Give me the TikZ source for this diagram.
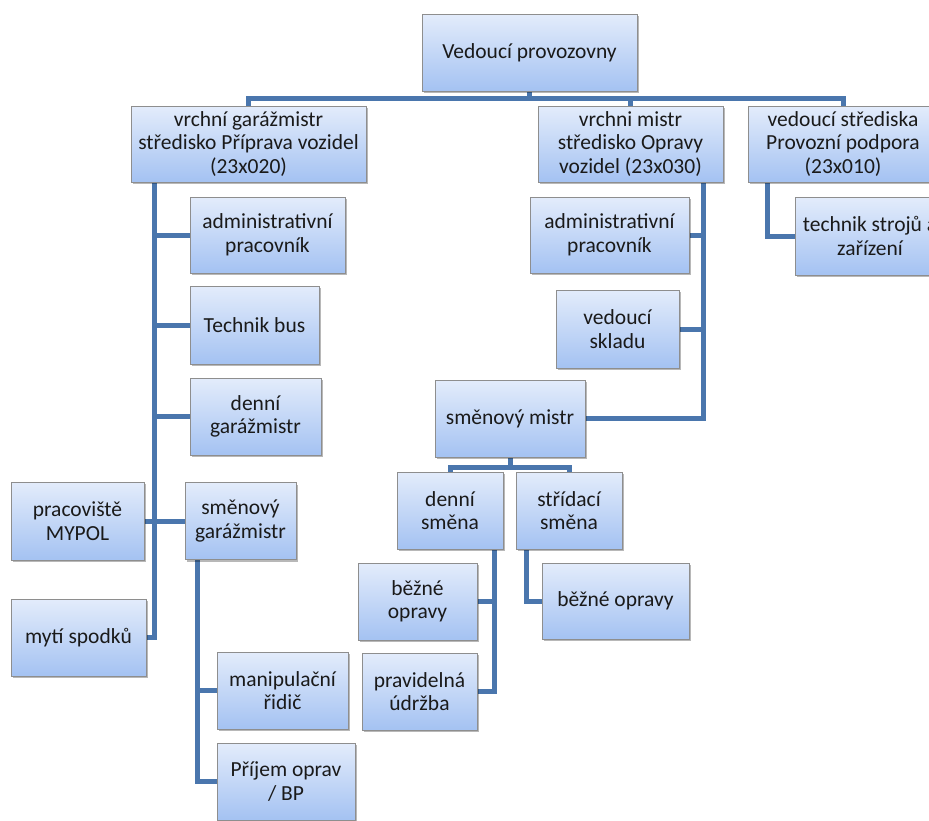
\documentclass[tikz,border=0pt]{standalone}
\usepackage{fontspec}
\setmainfont{Carlito}
\usetikzlibrary{calc,shadows,backgrounds}
\definecolor{boxtop}{HTML}{E3ECFB}
\definecolor{boxbot}{HTML}{A4C2F2}
\definecolor{boxline}{HTML}{8E8E8E}
\definecolor{linkblue}{HTML}{4A76AD}
\definecolor{txt}{HTML}{1A1A1A}
\begin{document}
\begin{tikzpicture}[x=1pt,y=-1pt,
  orgbox/.style={draw=boxline, line width=0.9pt, top color=boxtop, bottom color=boxbot,
    inner sep=0pt, align=center, text=txt,
    font=\fontsize{21.5}{23.5}\selectfont,
    drop shadow={shadow xshift=1.5pt, shadow yshift=-2pt, fill=black, opacity=0.28}},
  link/.style={draw=linkblue, line width=5pt}]
\useasboundingbox (0,0) rectangle (929,820);

% top level
\node[orgbox, minimum width=215, minimum height=77] (top) at (529.5,52.5) {Vedoucí provozovny};

% second level
\node[orgbox, minimum width=235, minimum height=76] (L1) at (248.5,144)
  {vrchní garážmistr\\středisko Příprava vozidel\\(23x020)};
\node[orgbox, minimum width=185, minimum height=76] (M1) at (630.5,144)
  {vrchni mistr\\středisko Opravy\\vozidel (23x030)};
\node[orgbox, minimum width=190, minimum height=76] (R1) at (843,144)
  {vedoucí střediska\\Provozní podpora\\(23x010)};

% Provozní podpora
\node[orgbox, minimum width=150, minimum height=78] (tech) at (870,236)
  {technik strojů a\\zařízení};

% Příprava vozidel
\node[orgbox, minimum width=155, minimum height=76] (admA) at (267.5,235)
  {administrativní\\pracovník};
\node[orgbox, minimum width=129, minimum height=78] (bus1) at (254.5,325) {Technik bus};
\node[orgbox, minimum width=131, minimum height=77] (dgar) at (255.5,416.5)
  {denní\\garážmistr};
\node[orgbox, minimum width=111, minimum height=77] (sgar) at (240.5,521)
  {směnový\\garážmistr};
\node[orgbox, minimum width=133, minimum height=78] (mypol) at (77.5,521)
  {pracoviště\\MYPOL};
\node[orgbox, minimum width=135, minimum height=77] (myti) at (78.5,637.5) {mytí spodků};
\node[orgbox, minimum width=131, minimum height=77] (manip) at (282.5,690.5)
  {manipulační\\řidič};
\node[orgbox, minimum width=138, minimum height=77] (prijem) at (286,781.5)
  {Příjem oprav\\/ BP};

% Opravy vozidel
\node[orgbox, minimum width=159, minimum height=76] (admB) at (609.5,235)
  {administrativní\\pracovník};
\node[orgbox, minimum width=123, minimum height=78] (sklad) at (617.5,329)
  {vedoucí\\skladu};
\node[orgbox, minimum width=150, minimum height=77] (smistr) at (510,418.5) {směnový mistr};
\node[orgbox, minimum width=106, minimum height=77] (denni) at (450,510.5)
  {denní\\směna};
\node[orgbox, minimum width=106, minimum height=77] (strid) at (569,510.5)
  {střídací\\směna};
\node[orgbox, minimum width=119, minimum height=77] (bezA) at (417.5,601.5)
  {běžné\\opravy};
\node[orgbox, minimum width=115, minimum height=77] (udrz) at (419.5,691.5)
  {pravidelná\\údržba};
\node[orgbox, minimum width=147, minimum height=76] (bezB) at (615.5,601) {běžné opravy};

% connectors, drawn behind the boxes on a white ground
\begin{scope}[on background layer]
  \fill[white] (0,0) rectangle (929,820);

  \coordinate (bus) at (0,98);
  \draw[link] (top.south) -- (top.south |- bus);
  \draw[link] (L1.north) -- (L1.north |- bus) -- (R1.north |- bus) -- (R1.north);
  \draw[link] (M1.north) -- (M1.north |- bus);

  \coordinate (tR) at ($(R1.south west)+(20,0)$);
  \draw[link] (tR) |- (tech.west);

  \coordinate (tL) at ($(L1.south west)+(24,0)$);
  \draw[link] (tL) |- (myti.east);
  \draw[link] (admA.west) -- (admA.west -| tL);
  \draw[link] (bus1.west) -- (bus1.west -| tL);
  \draw[link] (dgar.west) -- (dgar.west -| tL);
  \draw[link] (mypol.east) -- (sgar.west);

  \coordinate (tS) at ($(sgar.south west)+(13,0)$);
  \draw[link] (tS) |- (prijem.west);
  \draw[link] (manip.west) -- (manip.west -| tS);

  \coordinate (tM) at ($(M1.south east)+(-20,0)$);
  \draw[link] (tM) |- (smistr.east);
  \draw[link] (admB.east) -- (admB.east -| tM);
  \draw[link] (sklad.east) -- (sklad.east -| tM);

  \coordinate (sbus) at (0,467);
  \draw[link] (smistr.south) -- (smistr.south |- sbus);
  \draw[link] (denni.north) -- (denni.north |- sbus) -- (strid.north |- sbus) -- (strid.north);

  \coordinate (tD) at ($(denni.south east)+(-9,0)$);
  \draw[link] (tD) |- (udrz.east);
  \draw[link] (bezA.east) -- (bezA.east -| tD);

  \coordinate (tT) at ($(strid.south west)+(11,0)$);
  \draw[link] (tT) |- (bezB.west);
\end{scope}
\end{tikzpicture}
\end{document}
